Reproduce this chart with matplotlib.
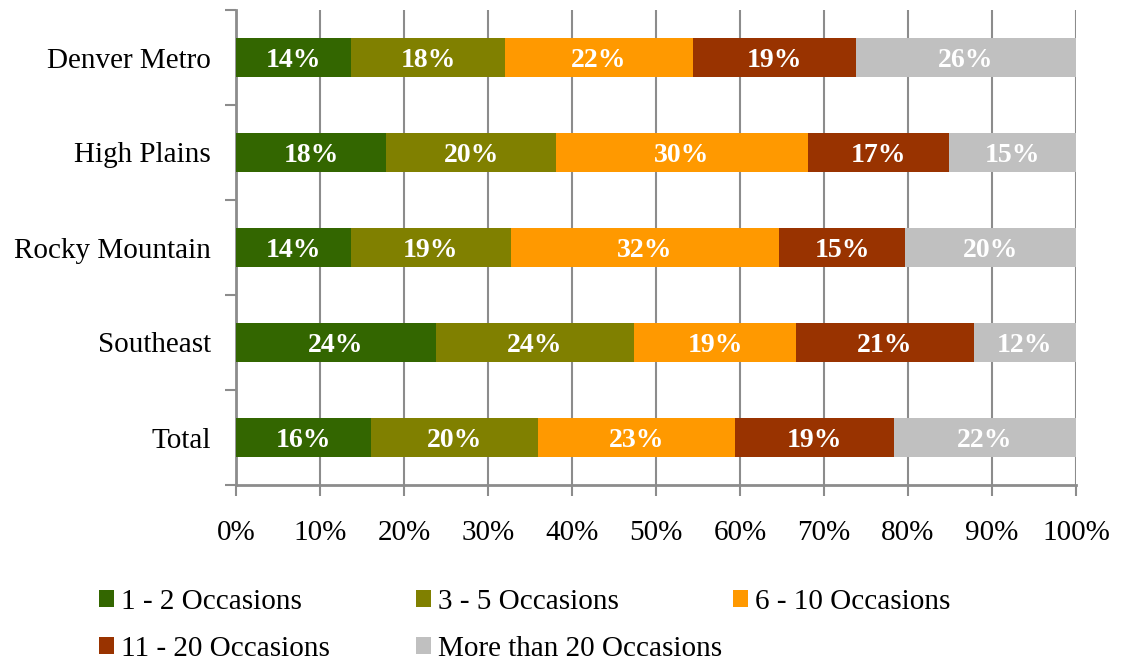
import matplotlib
matplotlib.use("Agg")
import matplotlib.pyplot as plt
from matplotlib.patches import Patch

plt.rcParams['font.family'] = ['Liberation Serif', 'DejaVu Serif']

categories = ["Denver Metro", "High Plains", "Rocky Mountain", "Southeast", "Total"]
series_names = ["1 - 2 Occasions", "3 - 5 Occasions", "6 - 10 Occasions",
                "11 - 20 Occasions", "More than 20 Occasions"]
occ_1_2 = [13.7, 17.9, 13.7, 23.8, 16.1]
occ_3_5 = [18.3, 20.2, 19.0, 23.6, 19.9]
occ_6_10 = [22.4, 30.0, 32.0, 19.3, 23.4]
occ_11_20 = [19.4, 16.8, 14.9, 21.1, 18.9]
occ_20_plus = [26.2, 15.1, 20.4, 12.2, 21.7]
x_ticks = [0, 10, 20, 30, 40, 50, 60, 70, 80, 90, 100]
x_tick_labels = [f"{t}%" for t in x_ticks]

series = [occ_1_2, occ_3_5, occ_6_10, occ_11_20, occ_20_plus]
colors = ["#336600", "#808000", "#FF9900", "#993300", "#C0C0C0"]

fig = plt.figure(figsize=(11.22, 6.65), dpi=100)
ax = fig.add_axes([236/1122, 1-485/665, (1076-236)/1122, 475/665])

ypos = list(range(len(categories)))[::-1]
left = [0.0]*len(categories)
for vals, name, col in zip(series, series_names, colors):
    bars = ax.barh(ypos, vals, left=left, height=0.4, color=col, label=name, zorder=3)
    for b, v in zip(bars, vals):
        ax.text(b.get_x() + b.get_width()/2, b.get_y() + b.get_height()/2,
                f"{v:.0f}%", ha='center', va='center_baseline', color='white',
                fontsize=20, fontweight='bold', zorder=4)
    left = [l + v for l, v in zip(left, vals)]

ax.set_xlim(0, 100)
ax.set_ylim(-0.5, len(categories) - 0.5)
ax.set_xticks(x_ticks)
ax.set_xticklabels(x_tick_labels, fontsize=21)
ax.set_yticks(ypos)
ax.set_yticklabels(categories, fontsize=21)
ax.tick_params(axis='y', length=0, pad=18)
ax.set_yticks([i - 0.5 for i in range(len(categories) + 1)], minor=True)
ax.tick_params(axis='y', which='minor', length=8, width=1.5, color='#8c8c8c')
ax.tick_params(axis='x', length=8, width=1.5, color='#8c8c8c', pad=17)
ax.grid(axis='x', color='#8c8c8c', linewidth=1.5, zorder=0)
for s in ['top', 'right']:
    ax.spines[s].set_visible(False)
for s in ['left', 'bottom']:
    ax.spines[s].set_color('#8c8c8c')
    ax.spines[s].set_linewidth(2)

# legend: three equal-width columns
col_x = [99/1122, 416/1122, 733/1122]
cols = [[0, 3], [1, 4], [2]]
for cx, idxs in zip(col_x, cols):
    handles = [Patch(facecolor=colors[i], edgecolor='none') for i in idxs]
    labels = [series_names[i] for i in idxs]
    fig.legend(handles, labels, loc='upper left', bbox_to_anchor=(cx, 1-589/665),
               frameon=False, fontsize=21, handlelength=0.5, handleheight=0.5,
               handletextpad=0.27, labelspacing=0.72, borderaxespad=0, borderpad=0)

fig.savefig("out.png", dpi=100)
